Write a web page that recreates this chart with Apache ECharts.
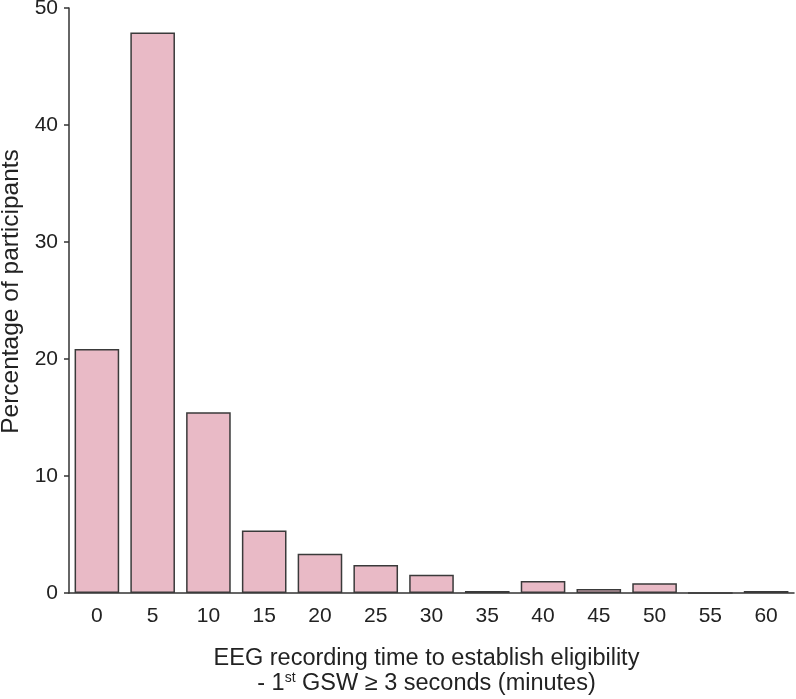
<!DOCTYPE html>
<html>
<head>
<meta charset="utf-8">
<script src="https://cdn.jsdelivr.net/npm/echarts@6/dist/echarts.min.js"></script>
<style>html,body{margin:0;padding:0;background:#fff}#c{width:796px;height:699px}</style>
</head>
<body>
<div id="c"></div>
<script>
const categories = ['0','5','10','15','20','25','30','35','40','45','50','55','60'];
const percentages = [20.85, 47.9, 15.45, 5.35, 3.35, 2.4, 1.55, 0.17, 1.03, 0.35, 0.83, 0, 0.17];
const yTicks = [0, 10, 20, 30, 40, 50];

const chart = echarts.init(document.getElementById('c'));
const font = 'Liberation Sans, Arial, sans-serif';
chart.setOption({
  animation: false,
  backgroundColor: '#fff',
  grid: { left: 69, right: 2, top: 8, bottom: 106, outerBoundsMode: 'none', containLabel: false },
  xAxis: {
    type: 'category',
    data: categories,
    axisLine: { lineStyle: { color: '#333', width: 1.5 } },
    axisTick: { show: false },
    axisLabel: { color: '#222', fontSize: 21, fontFamily: font, margin: 13 },
    name: 'EEG recording time to establish eligibility\n- 1{sup|st} GSW \u2265 3 seconds (minutes)',
    nameLocation: 'middle',
    nameGap: 53,
    nameTextStyle: {
      color: '#222', fontSize: 23.5, fontFamily: font, lineHeight: 25,
      align: 'center', verticalAlign: 'top', padding: [0, 10, 0, 0],
      rich: { sup: { fontSize: 14, fontFamily: font, color: '#222', verticalAlign: 'top', lineHeight: 25, padding: [0,0,7,0] } }
    }
  },
  yAxis: {
    type: 'value',
    min: 0, max: 50, interval: 10,
    axisLine: { show: true, lineStyle: { color: '#333', width: 1.5 } },
    axisTick: { show: true, length: 5, lineStyle: { color: '#333', width: 1.5 } },
    splitLine: { show: false },
    axisLabel: { color: '#222', fontSize: 21, fontFamily: font, margin: 11,
      formatter: v => yTicks.includes(v) ? String(v) : '' },
    name: 'Percentage of participants',
    nameLocation: 'middle',
    nameGap: 38,
    nameTextStyle: { color: '#222', fontSize: 24.5, fontFamily: font, padding: [0, 0, 0, 18] }
  },
  series: [{
    type: 'bar',
    data: percentages,
    barCategoryGap: '20%',
    itemStyle: { color: '#e9bac6', borderColor: '#3a3a3a', borderWidth: 1.5 }
  }]
});
</script>
</body>
</html>
